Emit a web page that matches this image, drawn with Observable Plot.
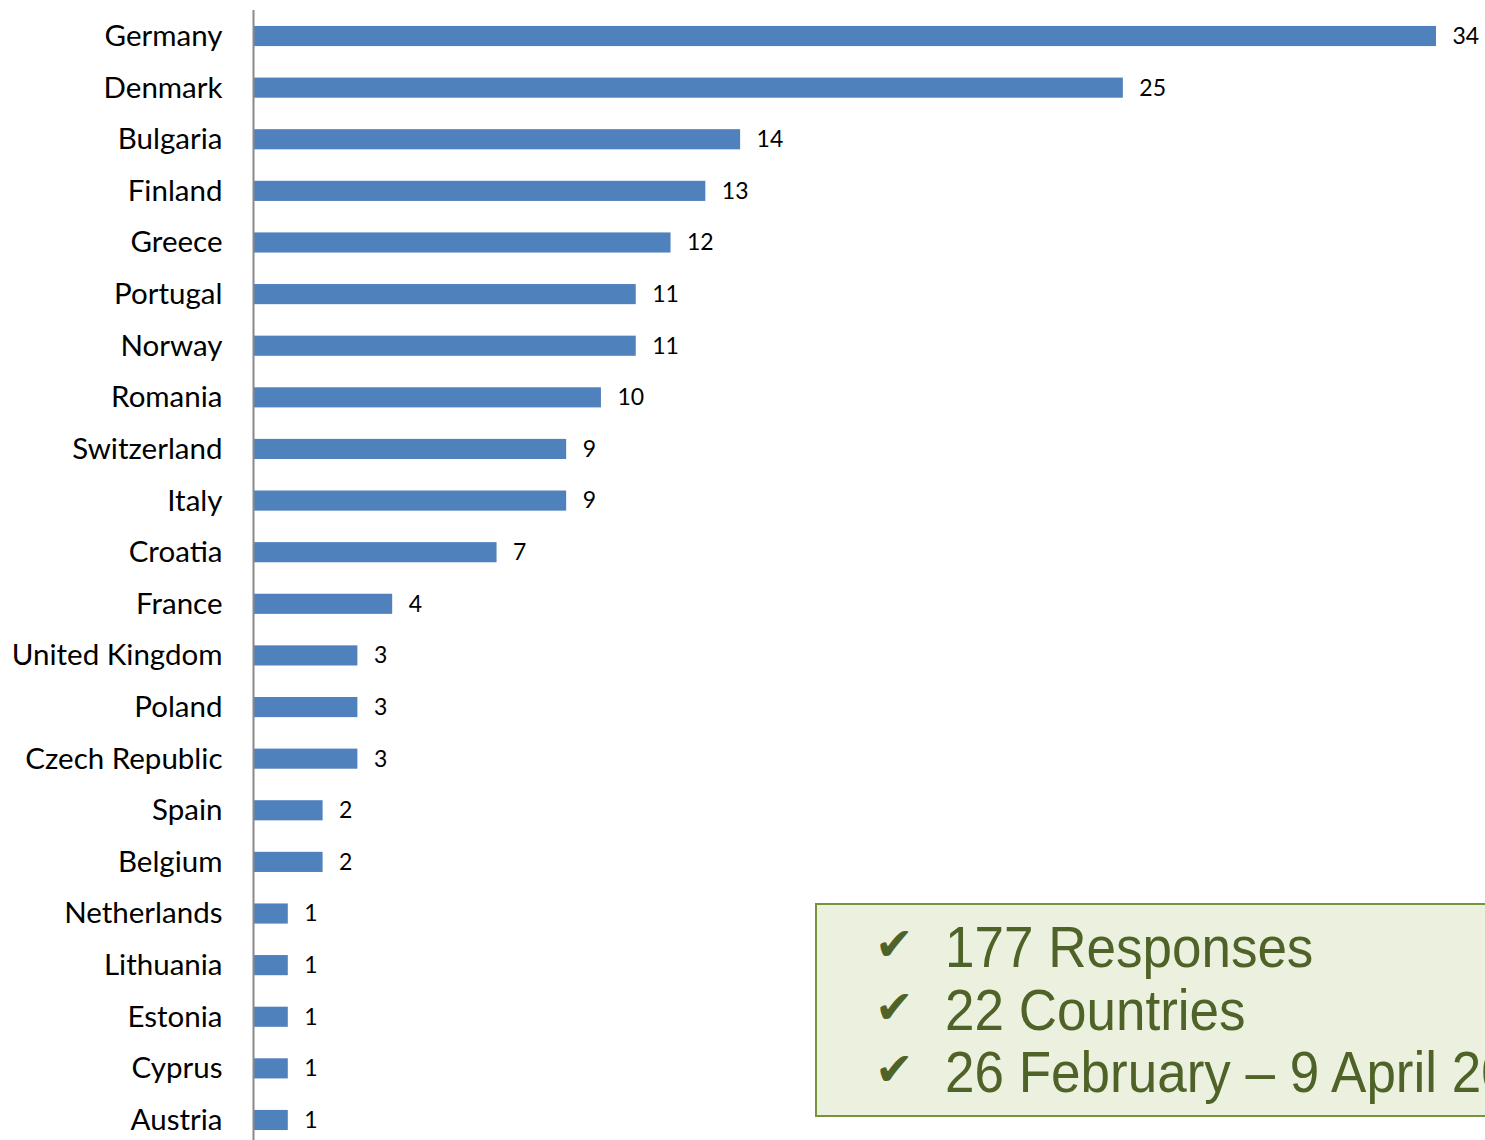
<!DOCTYPE html>
<html>
<head>
<meta charset="utf-8">
<script src="https://cdn.jsdelivr.net/npm/d3@7"></script>
<script src="https://cdn.jsdelivr.net/npm/@observablehq/plot@0.6"></script>
<style>
  html, body { margin: 0; padding: 0; background: #fff; overflow: hidden; }
  #wrap { position: relative; width: 1485px; height: 1140px; overflow: hidden; }
  #box {
    position: absolute; left: 815px; top: 903px; width: 700px; height: 214px;
    background: #ebf1de; border: 2px solid #77933c; box-sizing: border-box;
    font-family: "Liberation Sans", Arial, sans-serif; color: #4f6228;
  }
  #box .line { position: absolute; left: 0; white-space: nowrap; font-size: 57px; line-height: 1; }
  #box .chk { position: absolute; left: 58px; font-family: "DejaVu Sans", sans-serif; font-size: 46px; line-height: 1; }
  #box .txt { position: absolute; left: 128px; display: inline-block; transform: scaleX(0.93); transform-origin: 0 0; }
</style>
</head>
<body>
<div id="wrap"></div>
<script>
const countries = ["Germany","Denmark","Bulgaria","Finland","Greece","Portugal","Norway","Romania","Switzerland","Italy","Croatia","France","United Kingdom","Poland","Czech Republic","Spain","Belgium","Netherlands","Lithuania","Estonia","Cyprus","Austria"];
const responses = [34,25,14,13,12,11,11,10,9,9,7,4,3,3,3,2,2,1,1,1,1,1];
const boxLines = ["177 Responses","22 Countries","26 February \u2013 9 April 2013"];

const data = countries.map((c, i) => ({country: c, value: responses[i]}));

const chart = Plot.plot({
  width: 1485,
  height: 1146,
  marginTop: 10,
  marginBottom: 0,
  marginLeft: 253,
  marginRight: 49,
  style: {fontFamily: "Lato, sans-serif", background: "#fff"},
  x: {domain: [0, 34], axis: null},
  y: {domain: countries, round: false, paddingInner: 0.61, paddingOuter: 0.309, label: null},
  marks: [
    Plot.axisY({tickSize: 0, tickPadding: 31, fontSize: 29.5, fill: "#000", label: null}),
    Plot.barX(data, {x: "value", y: "country", fill: "#4f81bd"}),
    Plot.text(data, {x: "value", y: "country", text: d => String(d.value), dx: 16, textAnchor: "start", fontSize: 23, fill: "#000"}),
    Plot.ruleX([0], {stroke: "#898989", strokeWidth: 2})
  ]
});
document.getElementById("wrap").appendChild(chart);

const box = document.createElement("div");
box.id = "box";
const tops = [14, 77, 139];
boxLines.forEach((t, i) => {
  const line = document.createElement("div");
  line.className = "line";
  line.style.top = tops[i] + "px";
  const chk = document.createElement("span");
  chk.className = "chk";
  chk.style.top = "2px";
  chk.textContent = "\u2714";
  const txt = document.createElement("span");
  txt.className = "txt";
  txt.textContent = t;
  line.appendChild(chk);
  line.appendChild(txt);
  box.appendChild(line);
});
document.getElementById("wrap").appendChild(box);
</script>
</body>
</html>
